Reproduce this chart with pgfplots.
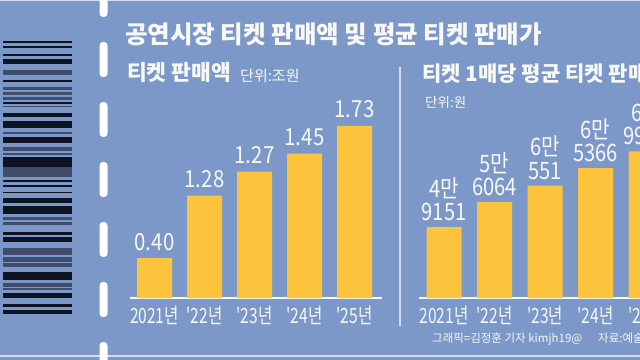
\documentclass[border=0pt]{standalone}
\usepackage{pgfplots}
\pgfplotsset{compat=1.18}
\usepackage{fontspec}
\setmainfont{Noto Sans CJK KR}
\newfontfamily\numf[FakeStretch=0.87]{Noto Sans CJK KR}
\newfontfamily\numr[FakeStretch=0.84]{Noto Sans CJK KR}
\newfontfamily\tickf[FakeStretch=0.74]{Noto Sans CJK KR}
\definecolor{bgblue}{HTML}{7C98C9}
\definecolor{baryel}{HTML}{FCC33C}
\definecolor{txtw}{HTML}{F8F8F4}
\definecolor{bcblack}{HTML}{0E1322}
\definecolor{bcslate}{HTML}{404C6A}
\definecolor{sepc}{HTML}{D3DCEE}
\expandafter\def\csname rlab0\endcsname{4만\\9151}
\expandafter\def\csname rlab1\endcsname{5만\\6064}
\expandafter\def\csname rlab2\endcsname{6만\\551}
\expandafter\def\csname rlab3\endcsname{6만\\5366}
\expandafter\def\csname rlab4\endcsname{6만\\9960}
\begin{document}
\begin{tikzpicture}
\useasboundingbox (0bp,0bp) rectangle (640bp,360bp);
\clip (0bp,0bp) rectangle (640bp,360bp);
\begin{scope}[x=1bp,y=1bp]
\fill[bgblue] (0,0) rectangle (640,360);
\fill[sepc] (0,358.5) rectangle (640,360);
\fill[sepc] (0,3.5) rectangle (640,5);
% barcode
\foreach \a/\b/\c in {40.7/42.7/bcblack,45.7/48.3/bcblack,54/55.7/bcblack,59.3/64.3/bcblack,
70/75/bcslate,80/82.3/bcblack,87.3/90/bcslate,91.7/95/bcslate,96.7/100/bcslate,101.7/104/bcblack,
106/107.3/bcslate,112.7/117.3/bcblack,120.7/128.3/bcblack,131.7/134/bcslate,136.7/143.3/bcblack,
146.7/150.7/bcslate,152.7/155/bcslate,157.3/166.7/bcblack,167.3/176.7/bcslate,180/182.3/bcblack,
185/187.3/bcblack,191.7/193.3/bcblack,198.3/203.3/bcblack,206/214/bcblack,216.7/220/bcslate,
221.7/225/bcslate,231.7/235/bcblack,236.7/241.7/bcblack,248.3/255/bcslate,257.3/261.7/bcslate,
263.3/266.7/bcslate,271.7/280/bcblack,283.3/286.7/bcslate,288.3/290/bcslate,292.7/298.3/bcblack,
304/306.7/bcblack,310/314/bcblack}
  \fill[\c] (3,{360-\a}) rectangle (72,{360-\b});
% perforation
\foreach \t in {-18,42,102,162,222,282,342}
  \fill[white,rounded corners=3.5] (99.5,{360-\t}) rectangle (107.5,{325-\t});
% separator
\fill[sepc] (399,34) rectangle (401,293);
% titles
\node[anchor=base west,inner sep=0,text=txtw,font=\bfseries\fontsize{24.5bp}{24.5bp}\selectfont] at (125,316.6) {공연시장 티켓 판매액 및 평균 티켓 판매가};
\node[anchor=base west,inner sep=0,text=txtw,font=\bfseries\fontsize{21.5bp}{21.5bp}\selectfont] at (127,279.4) {티켓 판매액};
\node[anchor=base west,inner sep=0,text=txtw,font=\fontsize{15bp}{15bp}\selectfont] at (240,279) {단위:조원};
\node[anchor=base west,inner sep=0,text=txtw,font=\bfseries\fontsize{21bp}{21bp}\selectfont] at (422,278.4) {티켓 1매당 평균 티켓 판매가};
\node[anchor=base west,inner sep=0,text=txtw,font=\fontsize{13.5bp}{13.5bp}\selectfont] at (425,253) {단위:원};
\node[anchor=base west,inner sep=0,text=txtw,font=\fontsize{11.5bp}{11.5bp}\selectfont] at (432,18) {그래픽=김정훈 기자 kimjh19@};
\node[anchor=base west,inner sep=0,text=txtw,font=\fontsize{11.5bp}{11.5bp}\selectfont] at (598,18) {자료:예술경영지원센터};
\end{scope}
% left chart
\begin{axis}[at={(130bp,62bp)}, anchor=south west, scale only axis,
  width=252bp, height=218.9bp,
  xmin=-0.49, xmax=4.55, ymin=0, ymax=2.2,
  axis x line*=bottom, axis y line=none,
  x axis line style={draw=txtw, line width=2bp, -},
  xtick={0,1,2,3,4}, xticklabels={2021년,'22년,'23년,'24년,'25년},
  major tick length=0pt, ytick=\empty,
  xticklabel style={text=txtw, font=\tickf\fontsize{21bp}{21bp}\selectfont, anchor=base, yshift=-25bp, inner sep=0pt},
  ybar, bar width=35bp, clip=false,
  nodes near coords, point meta=explicit symbolic,
  every node near coord/.append style={text=txtw, font=\numf\fontsize{23.5bp}{23.5bp}\selectfont, anchor=base, yshift=8bp, inner sep=0pt}]
\addplot[fill=baryel, draw=none] coordinates {(0,0.40)[0.40] (1,1.03)[1.28] (2,1.27)[1.27] (3,1.45)[1.45] (4,1.73)[1.73]};
\end{axis}
% right chart
\begin{axis}[at={(419bp,62bp)}, anchor=south west, scale only axis,
  width=277.5bp, height=201.3bp,
  xmin=-0.495, xmax=5, ymin=29.7, ymax=85,
  axis x line*=bottom, axis y line=none,
  x axis line style={draw=txtw, line width=2bp, -},
  xtick={0,1,2,3,4}, xticklabels={2021년,'22년,'23년,'24년,'25년},
  major tick length=0pt, ytick=\empty,
  xticklabel style={text=txtw, font=\tickf\fontsize{21bp}{21bp}\selectfont, anchor=base, yshift=-25bp, inner sep=0pt},
  ybar, bar width=35bp, clip=false,
  nodes near coords={\csname rlab\pgfplotspointmeta\endcsname}, point meta=explicit symbolic,
  every node near coord/.append style={text=txtw, font=\numr\fontsize{24bp}{23.5bp}\selectfont, align=center, anchor=south, yshift=6bp, inner sep=0pt}]
\addplot[fill=baryel, draw=none] coordinates {(0,49.151)[0] (1,56.064)[1] (2,60.551)[2] (3,65.366)[3] (4,69.96)[4]};
\end{axis}
\end{tikzpicture}
\end{document}
